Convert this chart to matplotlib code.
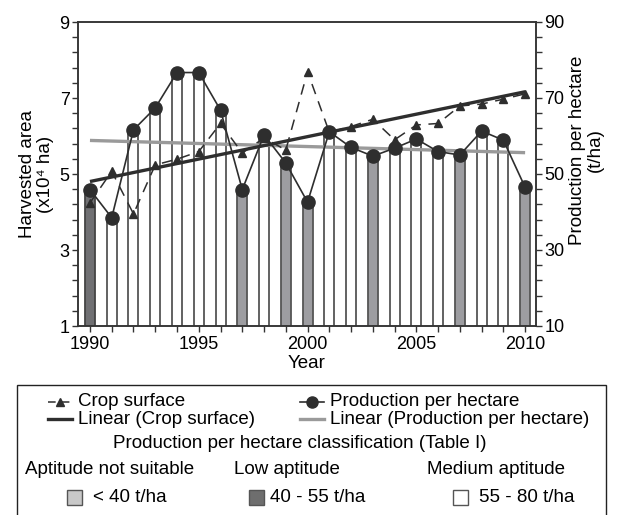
import matplotlib
matplotlib.use('Agg')
import matplotlib.pyplot as plt
from matplotlib.lines import Line2D
from matplotlib.patches import Rectangle
from matplotlib.ticker import FixedLocator
import numpy as np

plt.rcParams['font.family'] = ['Liberation Sans', 'DejaVu Sans']

# ---------------- data ----------------
years = list(range(1990, 2011))
crop_surface = [4.24, 5.07, 3.95, 5.24, 5.39, 5.59, 6.33, 5.55, 5.95, 5.63, 7.69,
                6.10, 6.25, 6.44, 5.90, 6.29, 6.33, 6.79, 6.84, 6.97, 7.11]
production = [45.9, 38.5, 61.6, 67.4, 76.7, 76.7, 66.8, 45.9, 60.3, 52.9, 42.6,
              61.1, 57.0, 54.7, 56.8, 59.2, 55.9, 55.0, 61.3, 58.9, 46.5]
left_ticks = [1, 3, 5, 7, 9]
right_ticks = [10, 30, 50, 70, 90]
year_ticks = [1990, 1995, 2000, 2005, 2010]

# bar fill as drawn in the figure
DARK, MID, WHITE = '#707073', '#9d9da1', '#ffffff'
bar_fill = [DARK, WHITE, WHITE, WHITE, WHITE, WHITE, WHITE, MID, WHITE, MID, MID,
            WHITE, WHITE, MID, WHITE, WHITE, WHITE, MID, WHITE, WHITE, MID]

W, H = 622, 515
fig = plt.figure(figsize=(W / 100, H / 100), dpi=100)

def fx(x):
    return x / W

def fy(y):
    return 1 - y / H

ax2 = fig.add_axes([fx(78), fy(326), fx(536) - fx(78), fy(22) - fy(326)])
ax = ax2.twinx()
ax.yaxis.tick_left()
ax.yaxis.set_label_position('left')
ax2.yaxis.tick_right()
ax.set_zorder(ax2.get_zorder() + 1)
ax.patch.set_visible(False)

LINE = '#2e2e2e'
FS = 13.5
TFS = 13

# bars (production per hectare)
edge_cols = ['#444444' if c == DARK else '#555555' for c in bar_fill]
ax2.bar(years, production, width=0.46, bottom=0, color=bar_fill,
        edgecolor=edge_cols, linewidth=1.3, zorder=1)

# trend lines
x = np.array(years, dtype=float)
cp = np.polyfit(x, crop_surface, 1)
pp = np.polyfit(x, production, 1)
ax2.plot(x, np.polyval(pp, x), color='#9a9a9a', lw=2.4, zorder=3,
         solid_capstyle='butt')
ax2.plot(years, production, color=LINE, lw=1.2, marker='o', ms=9.5,
         markerfacecolor=LINE, markeredgecolor=LINE, zorder=4)

ax.plot(x, np.polyval(cp, x), color=LINE, lw=2.4, zorder=3, solid_capstyle='butt')
ax.plot(years, crop_surface, color=LINE, lw=1.1, ls=(0, (7, 5)), marker='^', ms=6,
        markerfacecolor=LINE, markeredgecolor=LINE, zorder=4)

# axes formatting
ax.set_xlim(1989.45, 2010.5)
ax.set_ylim(1, 9)
ax2.set_ylim(10, 90)

ax.yaxis.set_major_locator(FixedLocator(left_ticks))
ax.yaxis.set_minor_locator(FixedLocator(np.arange(1, 9.01, 0.4)))
ax2.yaxis.set_major_locator(FixedLocator(right_ticks))
ax2.yaxis.set_minor_locator(FixedLocator(np.arange(10, 90.1, 4)))
ax2.xaxis.set_major_locator(FixedLocator(year_ticks))
ax2.xaxis.set_minor_locator(FixedLocator(years))
ax2.set_xticklabels([str(y) for y in year_ticks])
ax.tick_params(axis='x', which='both', bottom=False, labelbottom=False)

for a in (ax, ax2):
    for s in a.spines.values():
        s.set_color('#333333')
        s.set_linewidth(1.1)
    a.tick_params(which='both', direction='out', length=4.5, width=1.0,
                  color='#333333', labelsize=TFS, pad=1.5)
ax2.tick_params(axis='x', pad=3)

fig.text(fx(27), fy(174), 'Harvested area', rotation=90, ha='center', va='center', fontsize=FS)
fig.text(fx(45), fy(174), '(x10⁴ ha)', rotation=90, ha='center', va='center', fontsize=FS)
fig.text(fx(577), fy(150), 'Production per hectare', rotation=90, ha='center', va='center', fontsize=FS)
fig.text(fx(595), fy(150), '(t/ha)', rotation=90, ha='center', va='center', fontsize=FS)
fig.text(fx(307), fy(363), 'Year', ha='center', va='center', fontsize=FS)

# ---------------- legend box ----------------
fig.add_artist(Rectangle((fx(17), fy(520)), fx(606) - fx(17), fy(385) - fy(520),
                         transform=fig.transFigure, facecolor='white',
                         edgecolor='#222222', lw=1.0, clip_on=False))

def fline(x0, x1, y, **kw):
    fig.add_artist(Line2D([fx(x0), fx(x1)], [fy(y), fy(y)], transform=fig.transFigure, **kw))

def fmark(xp, y, **kw):
    fig.add_artist(Line2D([fx(xp)], [fy(y)], transform=fig.transFigure, **kw))

r1, r2, r3, r4, r5 = 402, 419, 444, 470, 497
fline(48, 72, r1, color=LINE, lw=1.1, ls=(0, (5, 4)))
fmark(60, r1, marker='^', ms=6, color=LINE)
fig.text(fx(78), fy(r1), 'Crop surface', ha='left', va='center', fontsize=FS)
fline(300, 324, r1, color=LINE, lw=1.2)
fmark(312, r1, marker='o', ms=8, color=LINE)
fig.text(fx(330), fy(r1), 'Production per hectare', ha='left', va='center', fontsize=FS)
fline(48, 72, r2, color=LINE, lw=2.4)
fig.text(fx(78), fy(r2), 'Linear (Crop surface)', ha='left', va='center', fontsize=FS)
fline(300, 324, r2, color='#9a9a9a', lw=2.4)
fig.text(fx(330), fy(r2), 'Linear (Production per hectare)', ha='left', va='center', fontsize=FS)
fig.text(fx(300), fy(r3), 'Production per hectare classification (Table I)',
         ha='center', va='center', fontsize=FS)
fig.text(fx(25), fy(r4), 'Aptitude not suitable', ha='left', va='center', fontsize=FS)
fig.text(fx(234), fy(r4), 'Low aptitude', ha='left', va='center', fontsize=FS)
fig.text(fx(427), fy(r4), 'Medium aptitude', ha='left', va='center', fontsize=FS)

sq = 15
for x0, col, txt, tx in [(67, '#c8c8c8', '< 40 t/ha', 93),
                          (249, '#6e6e6e', '40 - 55 t/ha', 270),
                          (453, '#ffffff', '55 - 80 t/ha', 479)]:
    fig.add_artist(Rectangle((fx(x0), fy(r5 + sq / 2)), fx(sq), sq / H,
                             transform=fig.transFigure, facecolor=col,
                             edgecolor='#555555', lw=1.0))
    fig.text(fx(tx), fy(r5), txt, ha='left', va='center', fontsize=FS)

fig.savefig('out.png', dpi=100)
